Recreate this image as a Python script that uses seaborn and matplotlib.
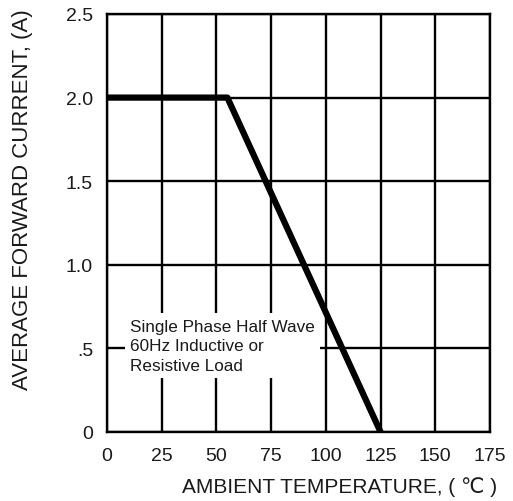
import matplotlib
matplotlib.use("Agg")
import matplotlib.pyplot as plt
import seaborn as sns
import pandas as pd

# Data
temperature = [0, 55, 125]
current = [2.0, 2.0, 0.0]
x_ticks = [0, 25, 50, 75, 100, 125, 150, 175]
x_tick_labels = ["0", "25", "50", "75", "100", "125", "150", "175"]
y_ticks = [0, 0.5, 1.0, 1.5, 2.0, 2.5]
y_tick_labels = ["0", ".5", "1.0", "1.5", "2.0", "2.5"]
x_label = "AMBIENT TEMPERATURE, ( \u2103 )"
y_label = "AVERAGE FORWARD CURRENT, (A)"
note = "Single Phase Half Wave\n60Hz Inductive or\nResistive Load"

sns.set_style("white")
plt.rcParams['font.family'] = ['Liberation Sans', 'DejaVu Sans']

df = pd.DataFrame({"temp": temperature, "current": current})

fig = plt.figure(figsize=(5.13, 5.02), dpi=100)
ax = fig.add_axes([107/513, 1-433/502, 383/513, 418/502])

sns.lineplot(data=df, x="temp", y="current", ax=ax, color="black",
             linewidth=4.5, zorder=5, sort=False)

ax.set_xlim(0, 175)
ax.set_ylim(0, 2.5)
ax.set_xticks(x_ticks)
ax.set_xticklabels(x_tick_labels)
ax.set_yticks(y_ticks)
ax.set_yticklabels(y_tick_labels)
ax.tick_params(axis='both', length=0, labelsize=14, colors='#1a1a1a')
ax.tick_params(axis='x', pad=11)
ax.tick_params(axis='y', pad=10)
ax.grid(True, color='black', linewidth=1.7, zorder=1)
ax.set_axisbelow(True)
for s in ax.spines.values():
    s.set_color('black')
    s.set_linewidth(1.7)
ax.set_xlabel("")
ax.set_ylabel("")

ax.text(10.5, 0.515, note, ha='left', va='center', fontsize=12.3,
        color='#1a1a1a', linespacing=1.4, zorder=4,
        bbox=dict(facecolor='white', edgecolor='none', boxstyle='square,pad=0.3'))

fig.text(340/513, 1-487/502, x_label, ha='center', va='center',
         fontsize=15, color='#1a1a1a')
fig.text(23/513, 1-200/502, y_label, ha='center', va='center',
         rotation=90, fontsize=16, color='#1a1a1a')

fig.savefig("out.png", dpi=100, facecolor='white')
